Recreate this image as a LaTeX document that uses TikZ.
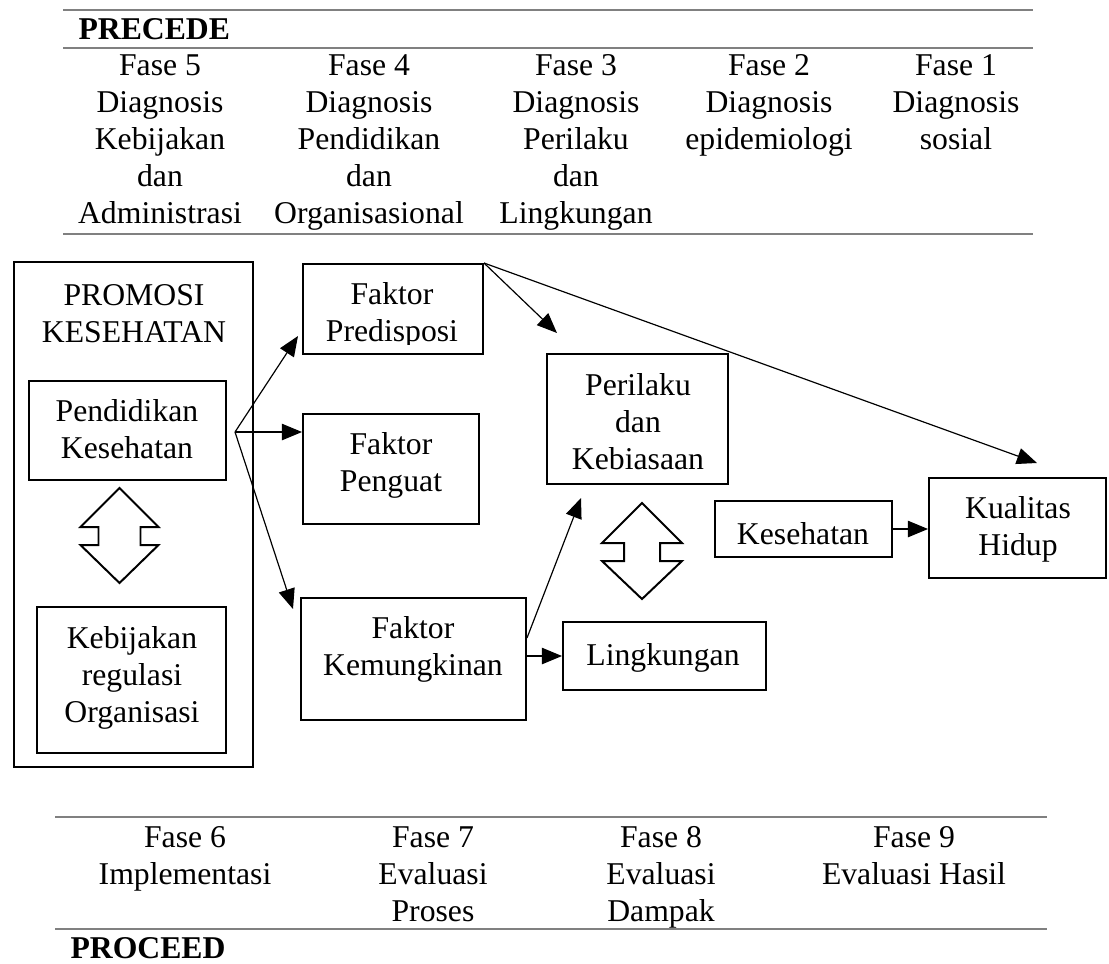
\documentclass[tikz,border=0pt]{standalone}
\usepackage{fontspec}
\setmainfont{Liberation Serif}
\usetikzlibrary{arrows.meta,fit,calc}
\begin{document}
\begin{tikzpicture}[x=0.3785pt,y=-0.3785pt,
  box/.style={draw, line width=0.75pt, inner sep=0pt, rectangle},
  txt/.style={align=center, inner sep=0pt, font=\fontsize{12}{14}\selectfont,
    execute at begin node=\strut, execute at end node=\strut},
  headtxt/.style={txt, font=\fontsize{12}{14}\selectfont\bfseries},
  rule/.style={draw=black!50, line width=0.75pt},
  conn/.style={line width=0.45pt, -{Triangle[length=7.6pt,width=6.2pt]}},
  dbl/.style={draw, line width=0.75pt, line join=miter}]
\useasboundingbox (0,0) rectangle (1109,963);

% ---------- PRECEDE table ----------
\draw[rule] (63,10) -- (1033,10);
\draw[rule] (63,48) -- (1033,48);
\draw[rule] (63,234) -- (1033,234);
\node[headtxt, anchor=west] (precede) at (78,32) {PRECEDE};
\node[txt, anchor=north] (f5) at (160,54) {Fase 5\\Diagnosis\\Kebijakan\\dan\\Administrasi};
\node[txt, anchor=north] (f4) at (369,54) {Fase 4\\Diagnosis\\Pendidikan\\dan\\Organisasional};
\node[txt, anchor=north] (f3) at (576,54) {Fase 3\\Diagnosis\\Perilaku\\dan\\Lingkungan};
\node[txt, anchor=north] (f2) at (769,54) {Fase 2\\Diagnosis\\epidemiologi};
\node[txt, anchor=north] (f1) at (956,54) {Fase 1\\Diagnosis\\sosial};

% ---------- boxes ----------
\node[box, fit={(14,262) (253,767)}] (promo) {};
\node[box, fit={(29,381) (226,480)}] (pend) {};
\node[box, fit={(37,607) (226,753)}] (kebij) {};
\node[box, fit={(303,264) (483,354)}] (pred) {};
\node[box, fit={(303,414) (479,524)}] (peng) {};
\node[box, fit={(301,598) (526,720)}] (kem) {};
\node[box, fit={(547,354) (728,484)}] (peri) {};
\node[box, fit={(715,501) (892,557)}] (kes) {};
\node[box, fit={(929,478) (1106,578)}] (kual) {};
\node[box, fit={(563,622) (766,690)}] (ling) {};

% ---------- box texts ----------
\node[txt] (promoT) at (134,319) {PROMOSI\\KESEHATAN};
\node[txt] (pendT) at (127,435) {Pendidikan\\Kesehatan};
\node[txt] (kebijT) at (132,680) {Kebijakan\\regulasi\\Organisasi};
\begin{scope}
  \clip (303,264) rectangle (483,344);
  \node[txt] (predT) at (392,318) {Faktor\\Predisposi};
\end{scope}
\node[txt] (pengT) at (391,468) {Faktor\\Penguat};
\node[txt] (kemT) at (413,652) {Faktor\\Kemungkinan};
\node[txt] (periT) at (638,427) {Perilaku\\dan\\Kebiasaan};
\node[txt] (kesT) at (803,537) {Kesehatan};
\node[txt] (kualT) at (1018,532) {Kualitas\\Hidup};
\node[txt] (lingT) at (663,658) {Lingkungan};

% ---------- double arrows ----------
\draw[dbl] (119.5,488) -- (158.5,527) -- (140.5,527) -- (140.5,545) -- (158.5,545)
  -- (119.5,583) -- (80.5,545) -- (98.5,545) -- (98.5,527) -- (80.5,527) -- cycle;
\draw[dbl] (642,503) -- (682,543) -- (660,543) -- (660,561) -- (682,561)
  -- (642,599) -- (602,561) -- (624,561) -- (624,543) -- (602,543) -- cycle;

% ---------- connectors ----------
\coordinate (hub) at (235,432);
\coordinate (tA) at (298,336);
\coordinate (tC) at (293,609);
\coordinate (tP) at (557,333);
\coordinate (tK) at (1037,463);
\coordinate (tB) at (581,498);
\coordinate (kemA) at ($(kem.north east)!0.33!(kem.south east)$);
\draw[conn] (hub) -- (tA);
\draw[conn] (hub) -- (hub -| peng.west);
\draw[conn] (hub) -- (tC);
\draw[conn] (pred.north east) -- (tP);
\draw[conn] (pred.north east) -- (tK);
\draw[conn] (kemA) -- (tB);
\draw[conn] (kem.east |- ling.west) -- (ling.west);
\draw[conn] (kes.east) -- (kes.east -| kual.west);

% ---------- PROCEED table ----------
\draw[rule] (55,817) -- (1047,817);
\draw[rule] (55,929) -- (1047,929);
\node[txt, anchor=north] (f6) at (185,826) {Fase 6\\Implementasi};
\node[txt, anchor=north] (f7) at (433,826) {Fase 7\\Evaluasi\\Proses};
\node[txt, anchor=north] (f8) at (661,826) {Fase 8\\Evaluasi\\Dampak};
\node[txt, anchor=north] (f9) at (914,826) {Fase 9\\Evaluasi Hasil};
\node[headtxt, anchor=west] (proceed) at (70,951) {PROCEED};
\end{tikzpicture}
\end{document}
